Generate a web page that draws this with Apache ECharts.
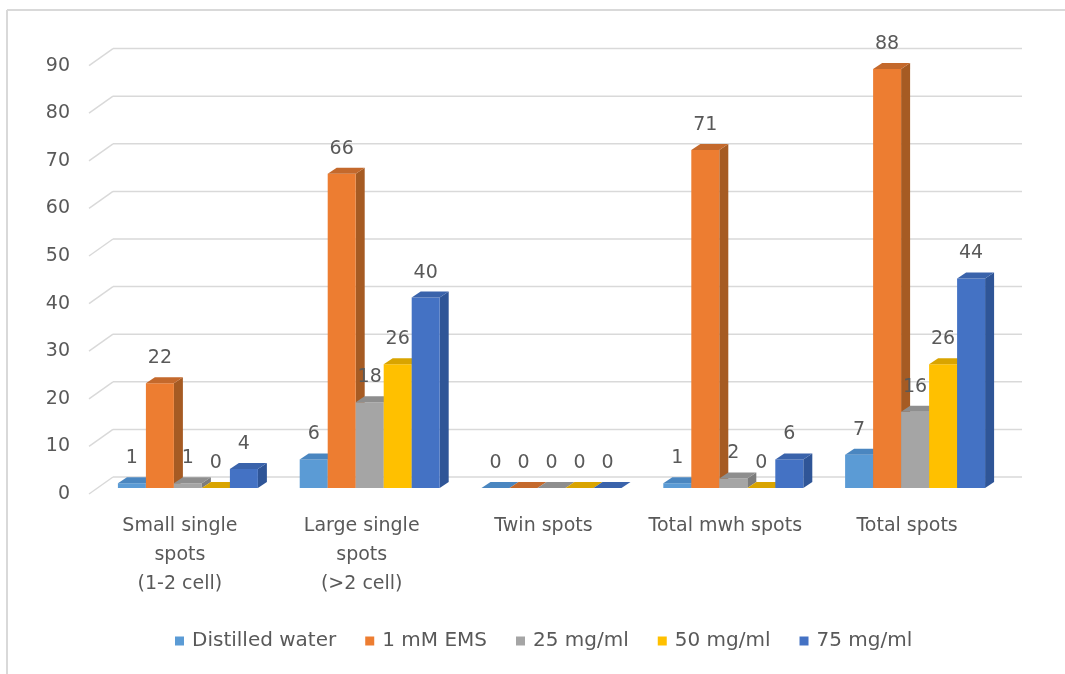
<!DOCTYPE html>
<html>
<head>
<meta charset="utf-8">
<script src="https://cdn.jsdelivr.net/npm/echarts@6/dist/echarts.min.js"></script>
<style>
  html, body { margin: 0; padding: 0; background: #ffffff; }
  #chart { width: 1065px; height: 674px; }
</style>
</head>
<body>
<div id="chart"></div>
<script>
// Spot counts per treatment
const categories = [
  'Small single\nspots\n(1-2 cell)',
  'Large single\nspots\n(>2 cell)',
  'Twin spots',
  'Total mwh spots',
  'Total spots'
];
const seriesNames = ['Distilled water', '1 mM EMS', '25 mg/ml', '50 mg/ml', '75 mg/ml'];
const distilledWater = [1, 6, 0, 1, 7];
const ems1mM = [22, 66, 0, 71, 88];
const mg25 = [1, 18, 0, 2, 16];
const mg50 = [0, 26, 0, 0, 26];
const mg75 = [4, 40, 0, 6, 44];
const gridValues = [0, 10, 20, 30, 40, 50, 60, 70, 80, 90];

const seriesValues = [distilledWater, ems1mM, mg25, mg50, mg75];

// front / top / side shades of each column
const palette = [
  { front: '#5B9BD5', top: '#4A86C0', side: '#41719C' },
  { front: '#ED7D31', top: '#C4692C', side: '#A65B23' },
  { front: '#A5A5A5', top: '#8E8E8E', side: '#7C7C7C' },
  { front: '#FFC000', top: '#D9A400', side: '#BF9000' },
  { front: '#4472C4', top: '#3A63AB', side: '#2F5597' }
];

const FONT = 'DejaVu Sans';
const TEXT = '#595959';
const GRID_COLOR = '#D9D9D9';

// pseudo-3D geometry (pixels)
const BAR_SHIFT = [8, -6];   // column front faces sit a little behind the front plane
const BAR_DEPTH = [9, -6];   // extrusion of each column
const WALL_SHIFT = [24, -17]; // back wall relative to the front plane
const GROUP_RATIO = 0.77;    // share of a category band taken by its columns

function renderGridLine(params, api) {
  const cs = params.coordSys;
  const v = api.value(1);
  const y = api.coord([0, v])[1];
  const x0 = cs.x;
  const x1 = cs.x + cs.width;
  const style = { stroke: GRID_COLOR, lineWidth: 1.5, fill: null };
  return {
    type: 'group',
    children: [
      { type: 'line', shape: { x1: x0, y1: y, x2: x0 + WALL_SHIFT[0], y2: y + WALL_SHIFT[1] }, style: style },
      { type: 'line', shape: { x1: x0 + WALL_SHIFT[0], y1: y + WALL_SHIFT[1], x2: x1 + WALL_SHIFT[0], y2: y + WALL_SHIFT[1] }, style: style }
    ]
  };
}

function makeBarRenderer(sIdx) {
  const col = palette[sIdx];
  return function (params, api) {
    const i = api.value(0);
    const v = api.value(1);
    const top = api.coord([i, v]);
    const base = api.coord([i, 0]);
    const band = api.size([1, 0])[0];
    const bw = band * GROUP_RATIO / seriesNames.length;
    const cx = top[0] + (sIdx - (seriesNames.length - 1) / 2) * bw + BAR_SHIFT[0];
    const xl = cx - bw / 2;
    const xr = cx + bw / 2;
    const yt = top[1] + BAR_SHIFT[1];
    const yb = base[1] + BAR_SHIFT[1];
    const dx = BAR_DEPTH[0], dy = BAR_DEPTH[1];
    return {
      type: 'group',
      children: [
        { type: 'polygon', shape: { points: [[xr, yt], [xr + dx, yt + dy], [xr + dx, yb + dy], [xr, yb]] },
          style: { fill: col.side } },
        { type: 'rect', shape: { x: xl, y: yt, width: bw, height: yb - yt },
          style: { fill: col.front } },
        { type: 'polygon', shape: { points: [[xl, yt], [xl + dx, yt + dy], [xr + dx, yt + dy], [xr, yt]] },
          style: { fill: col.top } },
        { type: 'text', x: cx, y: yt - 25,
          style: { text: String(v), fill: TEXT, font: '19px "' + FONT + '"', align: 'center', verticalAlign: 'middle' } }
      ]
    };
  };
}

const series = [{
  type: 'custom',
  name: 'grid',
  silent: true,
  z: 1,
  renderItem: renderGridLine,
  data: gridValues.map(v => [0, v])
}];

seriesNames.forEach((name, s) => {
  series.push({
    type: 'custom',
    name: name,
    z: 2,
    itemStyle: { color: palette[s].front },
    renderItem: makeBarRenderer(s),
    data: seriesValues[s].map((v, i) => [i, v])
  });
});

const chart = echarts.init(document.getElementById('chart'), null, { renderer: 'canvas' });
chart.setOption({
  backgroundColor: '#ffffff',
  animation: false,
  textStyle: { fontFamily: FONT },
  grid: { left: 89, width: 909, top: 65.6, bottom: 180, containLabel: false },
  xAxis: {
    type: 'category',
    data: categories,
    axisLine: { show: false },
    axisTick: { show: false },
    splitLine: { show: false },
    axisLabel: { interval: 0, color: TEXT, fontSize: 19, lineHeight: 29, margin: 18, fontFamily: FONT }
  },
  yAxis: {
    type: 'value',
    min: 0,
    max: 90,
    interval: 10,
    axisLine: { show: false },
    axisTick: { show: false },
    splitLine: { show: false },
    axisLabel: { color: TEXT, fontSize: 19, margin: 19, fontFamily: FONT }
  },
  legend: {
    data: seriesNames,
    left: 170,
    top: 626,
    icon: 'rect',
    itemWidth: 9,
    itemHeight: 9,
    itemGap: 29,
    textStyle: { color: TEXT, fontSize: 20, fontFamily: FONT, padding: [0, 0, 0, 3] }
  },
  graphic: [
    { type: 'line', shape: { x1: 7, y1: 10, x2: 1065, y2: 10 }, style: { stroke: GRID_COLOR, lineWidth: 2 } },
    { type: 'line', shape: { x1: 7, y1: 10, x2: 7, y2: 674 }, style: { stroke: GRID_COLOR, lineWidth: 2 } }
  ],
  series: series
});
</script>
</body>
</html>
